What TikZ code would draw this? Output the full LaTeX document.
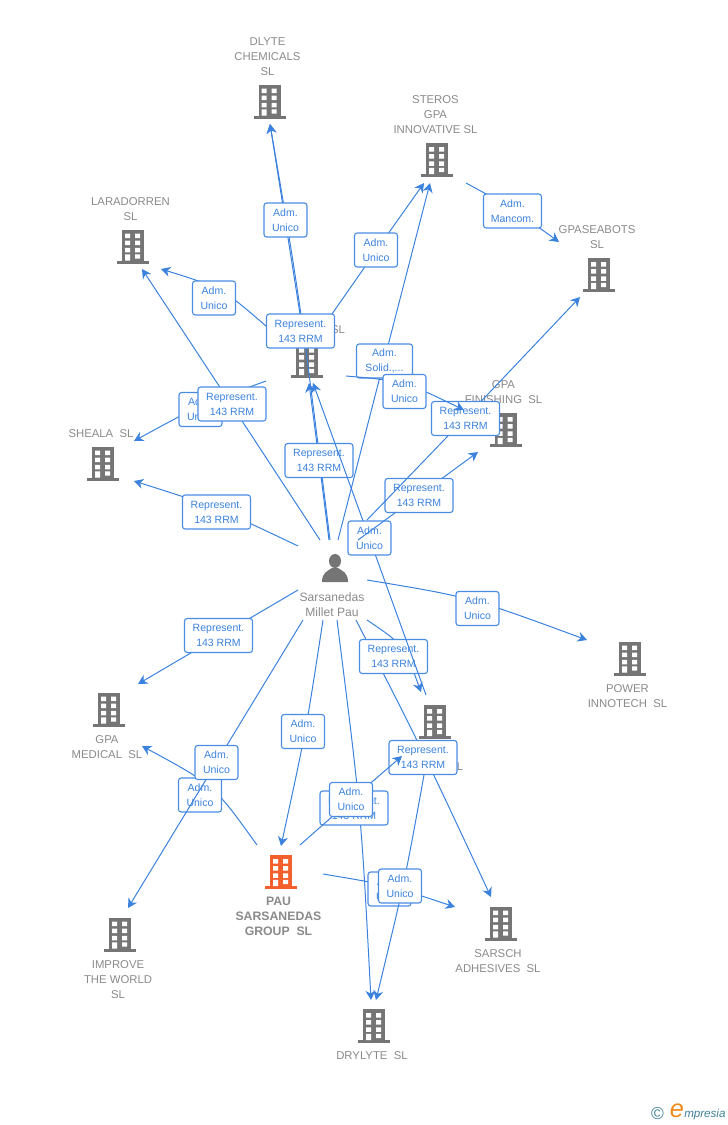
\documentclass[tikz,border=0pt]{standalone}
\usepackage{fontspec}
\setmainfont{Liberation Sans}
\usetikzlibrary{arrows.meta}
\definecolor{linkblue}{HTML}{3B82DE}
\definecolor{boxblue}{HTML}{4A8CE4}
\definecolor{txtgray}{HTML}{8A8A8A}
\definecolor{icongray}{HTML}{757575}
\definecolor{iconorange}{HTML}{F4602C}
\definecolor{logoteal}{HTML}{3F7F96}
\definecolor{logoorange}{HTML}{F08A1E}
\tikzset{
  x=0.75pt,y=-0.75pt,
  edgeline/.style={draw=linkblue,line width=0.75pt,-{Stealth[length=7pt,width=7.5pt,inset=2.2pt]}},
  tagbox/.style={draw=boxblue,line width=0.85pt,fill=white,rounded corners=2pt,inner sep=0pt,minimum height=25.5pt,
     align=center,text=linkblue,font=\fontsize{7.9}{11.25}\selectfont},
  repbox/.style={tagbox,minimum width=51pt},
  admbox/.style={tagbox,minimum width=32.25pt},
  solbox/.style={tagbox,minimum width=42pt},
  manbox/.style={tagbox,minimum width=43.5pt},
  namelabel/.style={align=center,text=txtgray,inner sep=0pt,font=\fontsize{8.5}{11.25}\selectfont},
  boldlabel/.style={align=center,text=txtgray,inner sep=0pt,font=\fontsize{9.2}{11.25}\selectfont\bfseries},
  personlabel/.style={align=center,text=txtgray,inner sep=0pt,font=\fontsize{9.1}{11.25}\selectfont},
  pics/office/.style={code={
    \fill[#1] (-11,-17) rectangle (11,15);
    \fill[#1] (-16,14) rectangle (16,17);
    \fill[white] (-8,-13) rectangle (-3,-8.5) (2,-13) rectangle (7,-8.5)
      (-8,-5.8) rectangle (-3,-1.3) (2,-5.8) rectangle (7,-1.3)
      (-8,1.4) rectangle (-3,5.9) (2,1.4) rectangle (7,5.9)
      (-8,7.8) rectangle (-3,14) (2,7.8) rectangle (7,12);
  }},
}
% id, start, control, end, box centre, box style, box text
\newcommand{\linkbox}[7]{%
  \coordinate (#1s) at (#2);
  \coordinate (#1c) at (#3);
  \coordinate (#1e) at (#4);
  \draw[edgeline] (#1s) .. controls (#1c) .. (#1e);
  \node[#6] (#1) at (#5) {#7};
}
\newcommand{\RR}{Represent.\\143 RRM}
\newcommand{\AU}{Adm.\\Unico}
\begin{document}
\begin{tikzpicture}
\useasboundingbox (0,0) rectangle (728,1125);
% company icons
\pic at (269.5,101.5) {office=icongray};
\pic at (437,160) {office=icongray};
\pic at (133,246.5) {office=icongray};
\pic at (599,275) {office=icongray};
\pic at (307,361) {office=icongray};
\pic at (505.5,430) {office=icongray};
\pic at (103,463.5) {office=icongray};
\pic at (630,658.5) {office=icongray};
\pic at (109,709.5) {office=icongray};
\pic at (435,722) {office=icongray};
\pic at (281,872) {office=iconorange};
\pic at (120,934.5) {office=icongray};
\pic at (501,923.5) {office=icongray};
\pic at (374,1026) {office=icongray};
% person icon
\fill[icongray] (335,561) ellipse (6 and 7);
\fill[icongray] (322,582) .. controls (322,572) and (328,571) .. (332,568) -- (338,568) .. controls (342,571) and (348,572) .. (348,582) -- cycle;
% labels
\node[namelabel] (ldlyte) at (267.5,56.5) {DLYTE\\CHEMICALS\\SL};
\node[namelabel] (lsteros) at (435.5,115) {STEROS\\GPA\\INNOVATIVE SL};
\node[namelabel] (llarad) at (130.5,209.5) {LARADORREN\\SL};
\node[namelabel] (lgpas) at (597,237.5) {GPASEABOTS\\SL};
\node[namelabel] (lcenter) at (338,330) {SL};
\node[namelabel] (lfinish) at (503.5,392.5) {GPA\\FINISHING~~SL};
\node[namelabel] (lsheala) at (101,434) {SHEALA~~SL};
\node[namelabel] (lpower) at (627.5,696.5) {POWER\\INNOTECH~~SL};
\node[namelabel] (lmedical) at (107,747) {GPA\\MEDICAL~~SL};
\node[namelabel] (lhidden) at (460,767) {L};
\node[boldlabel] (lpau) at (278.5,916.5) {PAU\\SARSANEDAS\\GROUP~~SL};
\node[namelabel] (limprove) at (118,980) {IMPROVE\\THE WORLD\\SL};
\node[namelabel] (lsarsch) at (498,961.5) {SARSCH\\ADHESIVES~~SL};
\node[namelabel] (ldrylyte) at (372,1056) {DRYLYTE~~SL};
\node[personlabel] (lperson) at (332,604.5) {Sarsanedas\\Millet Pau};
% connectors with their tags
\linkbox{a1}{257,845}{214,785}{142,746}{200,795}{admbox}{\AU}
\linkbox{a2}{303,620}{215.5,764}{128,908}{216.5,762.5}{admbox}{\AU}
\linkbox{a3}{266,381}{200,405}{134,441}{200.5,409.5}{admbox}{\AU}
\linkbox{a4}{337,620}{361,810}{371,1000}{354,808}{repbox}{\RR}
\linkbox{a5}{356,620}{420,745}{491,897}{423,757.5}{repbox}{\RR}
\linkbox{a6}{367,620}{404,645}{421,692}{393.5,656.5}{repbox}{\RR}
\linkbox{b1}{330,540}{300,300}{270,124}{300.5,331}{repbox}{\RR}
\linkbox{b2}{300,314}{286,222}{270,124}{285.5,220}{admbox}{\AU}
\linkbox{b3}{329,540}{319,460}{309,383}{319,460.5}{repbox}{\RR}
\linkbox{b4}{426,695}{370,540}{313,383}{369.5,538}{admbox}{\AU}
\linkbox{b5}{320,540}{231,404}{142,269}{232,404}{repbox}{\RR}
\linkbox{b6}{298,546}{216,507}{134,481}{216.5,512}{repbox}{\RR}
\linkbox{b7}{266,326}{222,288}{161,269}{214,298}{admbox}{\AU}
\linkbox{b8}{332,314}{378,248}{424,183}{376,250}{admbox}{\AU}
\linkbox{c1}{338,540}{384,361}{430,183}{384.5,361}{solbox}{Adm.\\Solid.,...}
\linkbox{c2}{358,540}{418,496}{478,452}{419,495.5}{repbox}{\RR}
\linkbox{c3}{367,520}{473,410}{580,297}{465.5,418.5}{repbox}{\RR}
\linkbox{c4}{346,376}{404,381}{464,410}{404.5,391.5}{admbox}{\AU}
\linkbox{c5}{466,183}{512,208}{559,242}{512.5,211}{manbox}{Adm.\\Mancom.}
\linkbox{d1}{367,580}{470,597}{587,640}{477.5,608.5}{admbox}{\AU}
\linkbox{d2}{298,590}{218,637}{138,684}{218.5,635.5}{repbox}{\RR}
\linkbox{d3}{323,620}{306,731}{281,846}{303,731.5}{admbox}{\AU}
\linkbox{d4}{300,845}{351,800}{402,756}{351,799.5}{admbox}{\AU}
\linkbox{d5}{323,874}{389,885}{455,907}{389.5,889}{admbox}{\AU}
\linkbox{d6}{424,775}{405,880}{376,1000}{400,886}{admbox}{\AU}
% logo
\node[text=logoteal,inner sep=0pt,font=\fontsize{13}{14}\selectfont] (logoc) at (657.5,1114) {©};
\node[text=logoorange,inner sep=0pt,font=\fontsize{19}{20}\selectfont\itshape] (logoe) at (677,1111) {e};
\node[text=logoteal,inner sep=0pt,anchor=west,font=\fontsize{8.7}{12}\selectfont\itshape] (logot) at (684,1114) {mpresia};
\end{tikzpicture}
\end{document}
